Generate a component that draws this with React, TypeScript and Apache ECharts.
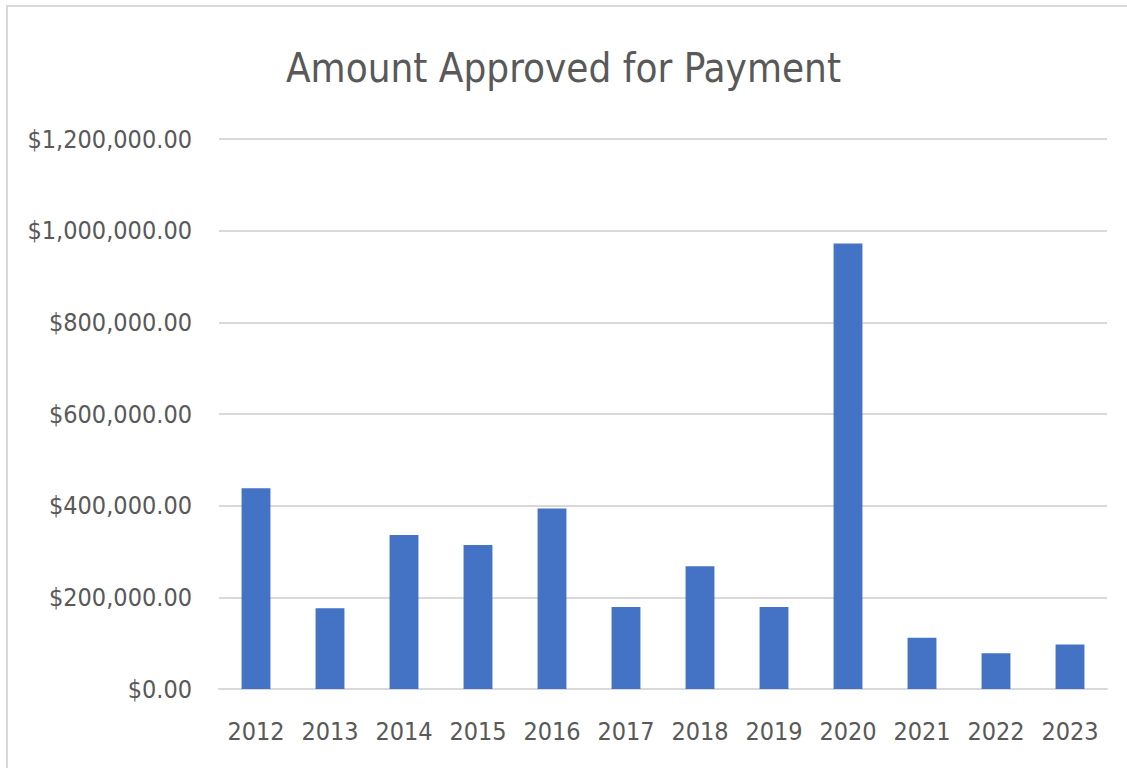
import React, { useEffect, useRef } from "react";
import * as echarts from "echarts";

const years = ["2012", "2013", "2014", "2015", "2016", "2017", "2018", "2019", "2020", "2021", "2022", "2023"];
const amounts = [438000, 176000, 336000, 314000, 394000, 179000, 268000, 179000, 972000, 112000, 78000, 97000];
const yTicks = [0, 200000, 400000, 600000, 800000, 1000000, 1200000];
const titleText = "Amount Approved for Payment";

const FONT = "'DejaVu Sans Condensed', 'Open Sans', sans-serif";

function fmt(v: number): string {
  return "$" + v.toLocaleString("en-US", { minimumFractionDigits: 2, maximumFractionDigits: 2 });
}

export default function App() {
  const ref = useRef<HTMLDivElement>(null);
  useEffect(() => {
    if (!ref.current) return;
    const chart = echarts.init(ref.current, null, { renderer: "svg" });
    chart.setOption({
      animation: false,
      backgroundColor: "#ffffff",
      title: {
        text: titleText,
        left: "center",
        top: 43,
        textStyle: { fontFamily: FONT, fontSize: 40, fontWeight: "normal", color: "#595959" },
      },
      graphic: [
        {
          type: "rect",
          shape: { x: 7, y: 6, width: 1140, height: 790 },
          style: { fill: "none", stroke: "#d9d9d9", lineWidth: 2 },
          silent: true,
        },
      ],
      grid: { left: 219, right: 20, top: 139, bottom: 79 },
      xAxis: {
        type: "category",
        data: years,
        axisLine: { show: true, lineStyle: { color: "#d9d9d9", width: 2 } },
        axisTick: { show: false },
        axisLabel: { interval: 0, fontFamily: FONT, fontSize: 25, color: "#595959", margin: 30 },
      },
      yAxis: {
        type: "value",
        min: yTicks[0],
        max: yTicks[yTicks.length - 1],
        interval: yTicks[1] - yTicks[0],
        axisLine: { show: false },
        axisTick: { show: false },
        splitLine: { lineStyle: { color: "#d9d9d9", width: 2 } },
        axisLabel: { fontFamily: FONT, fontSize: 25, color: "#595959", margin: 27, formatter: (v: number) => fmt(v) },
      },
      series: [
        {
          type: "bar",
          data: amounts,
          barWidth: "39%",
          itemStyle: { color: "#4472C4" },
        },
      ],
    });
    return () => chart.dispose();
  }, []);
  return <div ref={ref} style={{ position: "fixed", left: 0, top: 0, width: 1127, height: 768 }} />;
}
